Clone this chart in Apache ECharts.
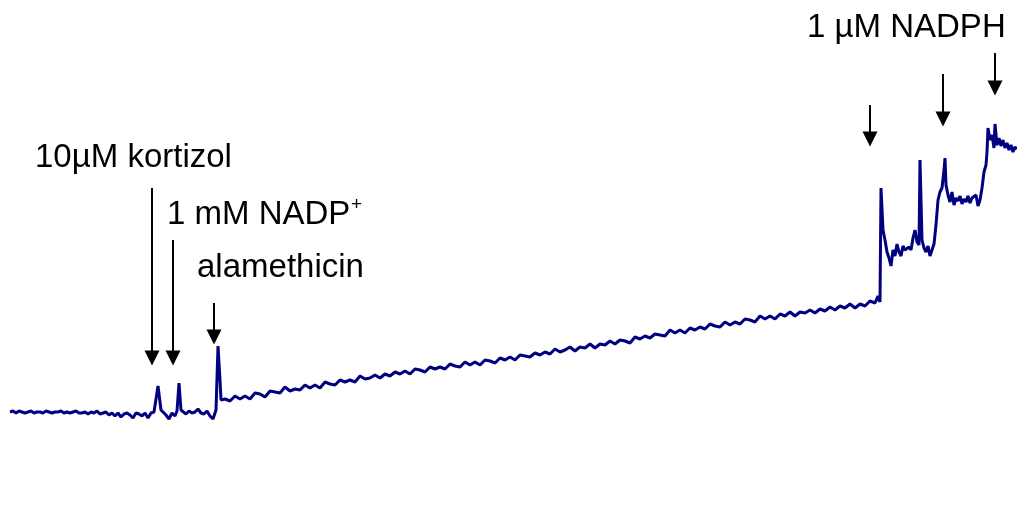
<!DOCTYPE html>
<html>
<head>
<meta charset="utf-8">
<script src="https://cdn.jsdelivr.net/npm/echarts@6/dist/echarts.min.js"></script>
<style>html,body{margin:0;padding:0;background:#fff}#c{width:1017px;height:521px}</style>
</head>
<body>
<div id="c"></div>
<script>
// time (arbitrary units) and recorded signal (arbitrary units)
const time = [10,13,16,19,22,25,28,31,34,37,40,43,46,49,52,55,58,61,64,67,70,73,76,79,82,85,88,91,94,97,100,103,106,109,112,115,118,121,124,127,130,133,136,139,142,145,148,151,154,156,158,160,161,163,166,169,172,175,177,179,180,181,183,186,189,192,195,198,201,204,207,210,213,215,216,218,219,220,221,223,
225,230,235,240,245,250,255,260,265,270,275,280,285,290,295,300,305,310,315,320,325,330,335,340,345,350,355,360,365,370,375,380,385,390,395,400,405,410,415,420,425,430,435,440,445,450,455,460,465,470,475,480,485,490,495,500,505,510,515,520,525,530,535,540,545,550,555,560,565,570,575,580,585,590,595,600,605,610,615,620,625,630,635,640,645,650,655,660,665,670,675,680,685,690,695,700,705,710,715,720,725,730,735,740,745,750,755,760,765,770,775,780,785,790,795,800,805,810,815,820,825,830,835,840,845,850,855,860,865,870,875,878,880,
881,883,885,887,889,891,893,895,897,899,901,903,905,907,909,911,913,915,917,919,920,921,922,924,926,928,930,932,934,936,938,940,942,944,945,946,948,950,952,954,956,958,960,962,964,966,968,970,972,974,976,978,980,982,984,986,987,988,990,992,994,995,997,999,1001,1003,1005,1007,1009,1011,1013,1015,1017];
const signal = [109,110,108,110,109,108,109,110,108,109,109,108,110,109,108,109,109,110,108,109,108,109,110,108,108,109,107,109,108,110,107,108,109,106,108,105,108,104,107,108,106,103,108,107,105,108,103,108,109,111,135,135,111,109,106,102,108,105,110,138,138,111,109,107,110,108,109,112,108,107,110,105,102,103,111,175,175,141,121,123,
122,120,125,122,125,122,128,127,124,130,129,128,134,130,132,131,136,133,136,133,139,137,136,141,139,141,139,145,142,143,146,143,147,145,149,147,150,147,152,151,149,154,152,154,152,157,155,154,159,156,159,156,161,160,158,163,161,164,161,166,165,164,168,166,169,167,172,169,171,174,170,174,173,177,173,177,176,180,177,181,180,178,184,182,185,183,187,186,185,191,188,191,188,193,191,194,192,197,195,194,199,196,199,197,202,201,199,205,202,205,202,207,205,209,205,209,208,211,208,212,210,214,211,215,213,217,213,217,215,220,218,225,219,
333,291,281,269,263,255,271,265,277,269,265,275,271,269,274,271,283,291,279,276,361,361,281,273,269,275,265,271,277,296,321,329,333,351,363,336,326,319,329,316,323,320,325,317,322,319,325,318,323,321,326,315,321,333,349,356,369,393,381,386,373,397,376,383,375,381,373,378,371,376,369,374,372];

// additions marked by arrows: [time, arrow start signal, arrow tip signal]
const additions = [[152,333,156],[173,281,156],[214,218,177],[870,416,375],[943,447,395],[995,468,426]];
const labels = ['10µM kortizol','1 mM NADP','alamethicin','1 µM NADPH'];

const chart = echarts.init(document.getElementById('c'));
const data = time.map((t,i)=>[t,signal[i]]);
const arrowData = additions.map(a=>[{coord:[a[0],a[1]]},{coord:[a[0],a[2]+7]}]);
const font = 'Liberation Sans, Arial, sans-serif';
const txt = (x,y,s,size)=>({type:'text',x:x,y:y,style:{text:s,font:(size||33)+'px '+font,fill:'#000',verticalAlign:'middle',align:'left'}});
chart.setOption({
  animation:false,
  grid:{left:0,right:0,top:0,bottom:0},
  xAxis:{type:'value',min:0,max:1017,show:false},
  yAxis:{type:'value',min:0,max:521,show:false},
  series:[{
    type:'line',data:data,showSymbol:false,
    lineStyle:{color:'#000080',width:3},
    markLine:{silent:true,symbol:['none','triangle'],symbolSize:[15,15],
      label:{show:false},lineStyle:{color:'#000',width:2,type:'solid'},
      emphasis:{disabled:true},data:arrowData}
  }],
  graphic:[
    txt(35,158,labels[0]),
    txt(167,215,labels[1]),
    txt(351,205,'+',19),
    txt(197,268,labels[2]),
    txt(807,28,labels[3])
  ]
});
</script>
</body>
</html>
